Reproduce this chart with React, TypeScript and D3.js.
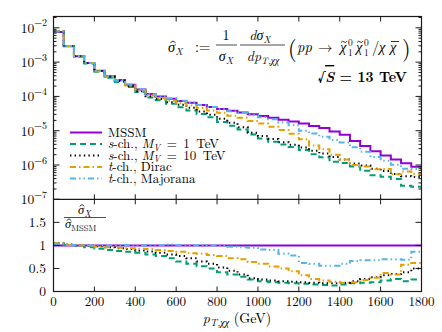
import React from 'react';
import * as d3 from 'd3';

// bins of 50 GeV, 0..1800
const binEdges = [0, 50, 100, 150, 200, 250, 300, 350, 400, 450, 500, 550, 600, 650, 700, 750, 800, 850, 900,
  950, 1000, 1050, 1100, 1150, 1200, 1250, 1300, 1350, 1400, 1450, 1500, 1550, 1600, 1650, 1700, 1750, 1800];

// normalised MSSM spectrum (1/GeV)
const mssm = [7.6e-3, 2.9e-3, 1.48e-3, 9.5e-4, 5.6e-4, 3.9e-4, 3.0e-4, 2.2e-4, 1.6e-4, 1.17e-4,
  1.0e-4, 8.5e-5, 7.4e-5, 6.5e-5, 5.6e-5, 4.9e-5, 4.3e-5, 3.8e-5, 3.4e-5, 3.0e-5,
  2.7e-5, 2.4e-5, 2.1e-5, 1.86e-5, 1.62e-5, 1.38e-5, 1.2e-5, 9.5e-6, 7.6e-6, 5.0e-6,
  3.6e-6, 2.5e-6, 1.9e-6, 1.45e-6, 1.12e-6, 8.9e-7];

// ratios to MSSM (lower panel)
const sch1 = [1.04, 1.01, 0.99, 0.96, 0.93, 0.90, 0.88, 0.86, 0.84, 0.80, 0.77, 0.72, 0.65, 0.60, 0.55, 0.50,
  0.42, 0.37, 0.32, 0.26, 0.22, 0.20, 0.19, 0.18, 0.17, 0.15, 0.14, 0.13, 0.15, 0.18, 0.19, 0.20, 0.24, 0.27, 0.22, 0.26];
const sch10 = [1.04, 1.02, 1.00, 0.99, 0.98, 0.96, 0.94, 0.92, 0.89, 0.87, 0.84, 0.80, 0.77, 0.72, 0.65, 0.60,
  0.52, 0.45, 0.37, 0.29, 0.26, 0.24, 0.22, 0.21, 0.20, 0.19, 0.18, 0.18, 0.19, 0.22, 0.27, 0.31, 0.35, 0.38, 0.42, 0.50];
const dirac = [1.04, 1.01, 1.00, 0.99, 0.97, 0.96, 0.95, 0.94, 0.93, 0.92, 0.90, 0.88, 0.86, 0.83, 0.82, 0.79,
  0.77, 0.72, 0.70, 0.64, 0.60, 0.54, 0.50, 0.44, 0.35, 0.27, 0.24, 0.21, 0.19, 0.20, 0.25, 0.30, 0.40, 0.37, 0.58, 0.62];
const majorana = [1.03, 1.01, 1.00, 1.00, 1.00, 1.00, 1.00, 1.01, 1.00, 1.01, 1.01, 1.02, 1.01, 1.00, 1.01, 1.00,
  0.99, 0.97, 0.96, 0.95, 0.91, 0.90, 0.82, 0.78, 0.62, 0.60, 0.56, 0.56, 0.60, 0.66, 0.68, 0.68, 0.70, 0.70, 0.69, 0.86];
const ones = mssm.map(() => 1);

const xTicks = [0, 200, 400, 600, 800, 1000, 1200, 1400, 1600, 1800];
const ratioTicks = [0, 0.5, 1, 1.5];
const decades = [-7, -6, -5, -4, -3, -2];

const series = [
  { key: 'mssm', ratio: ones, color: '#9400d3', dash: 'none' },
  { key: 'sch1', ratio: sch1, color: '#009e73', dash: '6,4' },
  { key: 'sch10', ratio: sch10, color: '#000000', dash: '1.4,3.2' },
  { key: 'dirac', ratio: dirac, color: '#e69f00', dash: '6,3,1.5,3' },
  { key: 'majorana', ratio: majorana, color: '#56b4e9', dash: '6,3,1.5,3,1.5,3' },
];

const W = 442, H = 332;
const X0 = 53.5, X1 = 421.5, YT = 16.5, YM = 199.3, YB = 291.5;
const TS = { fontFamily: "'Latin Modern Roman', 'Liberation Serif', serif" };

// little accents drawn as paths (combining marks render badly)
const Hat = ({ cx, cy, w = 2.6 }: { cx: number; cy: number; w?: number }) => (
  <path d={`M${cx - w},${cy + 1.8}L${cx},${cy}L${cx + w},${cy + 1.8}`} fill="none" stroke="#000" strokeWidth={0.8} />
);
const Tilde = ({ cx, cy }: { cx: number; cy: number }) => (
  <path d={`M${cx - 3},${cy + 1}Q${cx - 1.5},${cy - 1.2} ${cx},${cy + 0.4}T${cx + 3},${cy - 0.6}`} fill="none" stroke="#000" strokeWidth={0.8} />
);

export default function App() {
  const x = d3.scaleLinear().domain([0, 1800]).range([X0, X1]);
  const yTop = d3.scaleLog().domain([1e-7, Math.pow(10, -1.67)]).range([YM, YT]);
  const yRat = d3.scaleLinear().domain([0, 2]).range([YB, YM]);

  const stepPts = (vals: number[]) => binEdges.map((e, i) => [e, vals[Math.min(i, vals.length - 1)]] as [number, number]);
  const topLine = d3.line<[number, number]>().curve(d3.curveStepAfter).x(d => x(d[0])).y(d => yTop(d[1]));
  const ratLine = d3.line<[number, number]>().curve(d3.curveStepAfter).x(d => x(d[0])).y(d => yRat(d[1]));

  const minor: { v: number; major: boolean }[] = [];
  decades.forEach(dd => {
    for (let m = 1; m <= 9; m++) {
      const v = m * Math.pow(10, dd);
      if (v >= 1e-7 && v <= yTop.domain()[1]) minor.push({ v, major: m === 1 });
    }
  });

  const axisColor = '#1a1a1a';
  const mv = (tev: string) => (
    <><tspan fontStyle="italic">s</tspan><tspan>-ch., </tspan><tspan fontStyle="italic">M</tspan>
      <tspan fontSize={9} fontStyle="italic" dy={2.5}>V</tspan><tspan dy={-2.5}>{'\u2002=\u2002'}</tspan>
      <tspan>{tev + '\u00a0TeV'}</tspan></>
  );
  const legend = [
    { s: series[0], label: <tspan>MSSM</tspan> },
    { s: series[1], label: mv('1') },
    { s: series[2], label: mv('10') },
    { s: series[3], label: <><tspan fontStyle="italic">t</tspan><tspan>-ch., Dirac</tspan></> },
    { s: series[4], label: <><tspan fontStyle="italic">t</tspan><tspan>-ch., Majorana</tspan></> },
  ];

  return (
    <svg width={W} height={H} style={{ position: 'absolute', left: 0, top: 0, background: '#fff' }}>
      {/* top panel curves */}
      {series.map(s => (
        <path key={'t' + s.key} d={topLine(stepPts(mssm.map((m, i) => m * s.ratio[i])))!} fill="none"
          stroke={s.color} strokeWidth={2} strokeDasharray={s.dash} />
      ))}
      {/* ratio curves */}
      {series.map(s => (
        <path key={'r' + s.key} d={ratLine(stepPts(s.ratio))!} fill="none"
          stroke={s.color} strokeWidth={2} strokeDasharray={s.dash} />
      ))}

      {/* frames */}
      <rect x={X0} y={YT} width={X1 - X0} height={YB - YT} fill="none" stroke={axisColor} strokeWidth={1.2} />
      <line x1={X0} x2={X1} y1={YM} y2={YM} stroke={axisColor} strokeWidth={1.2} />

      {/* x ticks */}
      {xTicks.slice(1, -1).map(t => (
        <g key={'xt' + t} stroke={axisColor} strokeWidth={1}>
          <line x1={x(t)} x2={x(t)} y1={YT} y2={YT + 5} />
          <line x1={x(t)} x2={x(t)} y1={YM - 5} y2={YM + 5} />
          <line x1={x(t)} x2={x(t)} y1={YB} y2={YB - 5} />
        </g>
      ))}
      {xTicks.map(t => (
        <text key={'xl' + t} style={TS} x={x(t)} y={306} fontSize={13} textAnchor="middle">{t}</text>
      ))}

      {/* log y ticks */}
      {minor.map(({ v, major }) => (
        <g key={'ly' + v} stroke={axisColor} strokeWidth={1}>
          <line x1={X0} x2={X0 + (major ? 6 : 3)} y1={yTop(v)} y2={yTop(v)} />
          <line x1={X1} x2={X1 - (major ? 6 : 3)} y1={yTop(v)} y2={yTop(v)} />
        </g>
      ))}
      {decades.map(dd => (
        <text key={'dl' + dd} style={TS} x={47} y={yTop(Math.pow(10, dd)) + 5} fontSize={13.5} textAnchor="end">
          <tspan>10</tspan><tspan fontSize={10} dy={-6.5}>{'\u2212' + Math.abs(dd)}</tspan>
        </text>
      ))}

      {/* ratio y ticks */}
      {ratioTicks.map(t => (
        <g key={'ry' + t}>
          <line x1={X0} x2={X0 + 6} y1={yRat(t)} y2={yRat(t)} stroke={axisColor} />
          <line x1={X1} x2={X1 - 6} y1={yRat(t)} y2={yRat(t)} stroke={axisColor} />
          <text style={TS} x={46} y={yRat(t) + 4.5} fontSize={13.5} textAnchor="end">{t}</text>
        </g>
      ))}

      {/* ratio label */}
      <text style={TS} x={78} y={214} fontSize={12.5}>
        <tspan fontStyle="italic">σ</tspan><tspan fontSize={9} fontStyle="italic" dy={2.5}>X</tspan>
      </text>
      <Hat cx={82} cy={204.5} w={2.3} />
      <line x1={64} x2={106} y1={217.5} y2={217.5} stroke="#000" strokeWidth={0.7} />
      <text style={TS} x={65} y={228} fontSize={12.5}>
        <tspan fontStyle="italic">σ</tspan><tspan fontSize={8.5} dy={2.5}>MSSM</tspan>
      </text>
      <Hat cx={69} cy={218.8} w={2.3} />

      {/* legend */}
      {legend.map((l, i) => (
        <g key={'lg' + i}>
          <line x1={70} x2={102} y1={132.5 + i * 11.5} y2={132.5 + i * 11.5} stroke={l.s.color} strokeWidth={2}
            strokeDasharray={l.s.dash} />
          <text style={TS} x={108} y={136.8 + i * 11.5} fontSize={13}>{l.label}</text>
        </g>
      ))}

      {/* formula */}
      <text style={TS} x={168} y={52} fontSize={14.5}>
        <tspan fontStyle="italic">σ</tspan><tspan fontSize={10} fontStyle="italic" dy={3}>X</tspan>
      </text>
      <Hat cx={173} cy={41} />
      <text style={TS} x={195} y={52} fontSize={14.5}>:=</text>
      <text style={TS} x={226} y={40} fontSize={14} textAnchor="middle">1</text>
      <line x1={216} x2={237} y1={45} y2={45} stroke="#000" strokeWidth={0.7} />
      <text style={TS} x={226} y={61} fontSize={14} textAnchor="middle">
        <tspan fontStyle="italic">σ</tspan><tspan fontSize={10} fontStyle="italic" dy={2.5}>X</tspan>
      </text>
      <text style={TS} x={260} y={40} fontSize={14} textAnchor="middle">
        <tspan fontStyle="italic">dσ</tspan><tspan fontSize={10} fontStyle="italic" dy={2.5}>X</tspan>
      </text>
      <line x1={240} x2={285} y1={45} y2={45} stroke="#000" strokeWidth={0.7} />
      <text style={TS} x={263} y={61} fontSize={14} textAnchor="middle">
        <tspan fontStyle="italic">dp</tspan><tspan fontSize={9.5} fontStyle="italic" dy={2.5}>T,χχ</tspan>
      </text>
      <text style={TS} x={288} y={56} fontSize={22}>(</text>
      <text style={TS} x={297} y={52} fontSize={14.5} fontStyle="italic">pp</text>
      <text style={TS} x={318} y={52} fontSize={14.5}>→</text>
      <text style={TS} x={340} y={52} fontSize={14.5} fontStyle="italic">χ</text>
      <Tilde cx={344} cy={41.5} />
      <text style={TS} x={348} y={46} fontSize={9.5}>0</text>
      <text style={TS} x={348} y={56} fontSize={9.5}>1</text>
      <text style={TS} x={356} y={52} fontSize={14.5} fontStyle="italic">χ</text>
      <Tilde cx={360} cy={41.5} />
      <text style={TS} x={364} y={46} fontSize={9.5}>0</text>
      <text style={TS} x={364} y={56} fontSize={9.5}>1</text>
      <text style={TS} x={372} y={52} fontSize={14.5}>/</text>
      <text style={TS} x={379} y={52} fontSize={14.5} fontStyle="italic">χ</text>
      <text style={TS} x={390} y={52} fontSize={14.5} fontStyle="italic">χ</text>
      <line x1={391} x2={399} y1={41.5} y2={41.5} stroke="#000" strokeWidth={0.8} />
      <text style={TS} x={402} y={56} fontSize={22}>)</text>
      <text style={TS} x={407} y={82} fontSize={14} textAnchor="end" fontWeight="bold">
        <tspan>√</tspan><tspan fontStyle="italic" style={{ textDecoration: 'overline' }}>S</tspan><tspan> = 13 TeV</tspan>
      </text>

      {/* x label */}
      <text style={TS} x={237} y={323} fontSize={14} textAnchor="middle">
        <tspan fontStyle="italic">p</tspan><tspan fontSize={10} fontStyle="italic" dy={3}>T,χχ</tspan>
        <tspan dy={-3}> (GeV)</tspan>
      </text>
    </svg>
  );
}
